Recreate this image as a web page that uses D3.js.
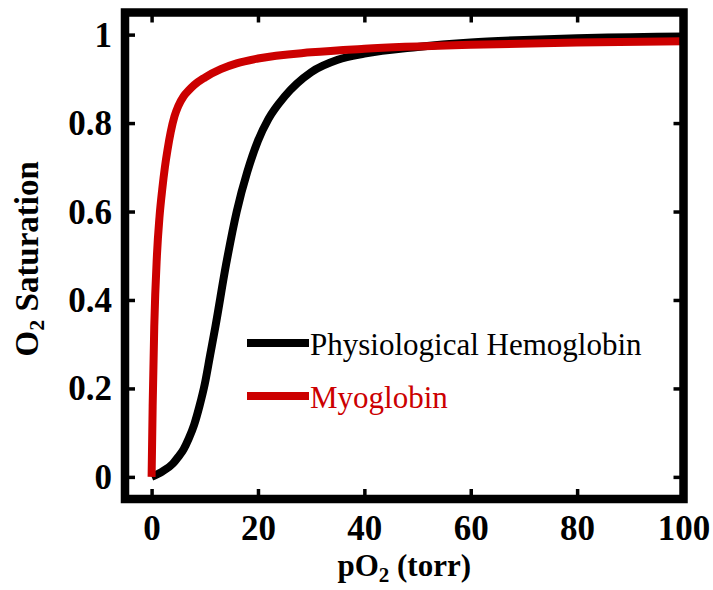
<!DOCTYPE html>
<html>
<head>
<meta charset="utf-8">
<script src="https://cdn.jsdelivr.net/npm/d3@7"></script>
<style>
  html, body { margin: 0; padding: 0; background: #fff; }
  svg { display: block; }
</style>
</head>
<body>
<div id="chart"></div>
<script>
// Oxygen partial pressure (torr) and fractional saturation, read per series
const hbPO2 = [0, 2, 4, 5, 6, 7, 8, 9, 10, 11, 12, 14, 16, 18, 20, 22, 25, 30, 35, 40, 50, 60, 70, 80, 90, 100];
const hbSat = [0, 0.012, 0.03, 0.045, 0.062, 0.087, 0.118, 0.16, 0.21, 0.275, 0.34, 0.48, 0.6, 0.69, 0.76, 0.81, 0.86, 0.915, 0.943, 0.957, 0.972, 0.982, 0.988, 0.992, 0.994, 0.996];

const mbPO2 = [0, 0.2, 0.5, 1, 1.5, 2, 2.5, 3, 3.6, 4.3, 5, 6, 7, 8, 10, 13, 16, 20, 30, 40, 60, 80, 100];
const mbSat = [0, 0.16, 0.34, 0.5, 0.59, 0.65, 0.7, 0.74, 0.78, 0.815, 0.838, 0.86, 0.874, 0.886, 0.903, 0.922, 0.935, 0.946, 0.96, 0.968, 0.977, 0.982, 0.985];

const xTicks = [0, 20, 40, 60, 80, 100];
const yTicks = [0, 0.2, 0.4, 0.6, 0.8, 1];
const yTickLabels = ["0", "0.2", "0.4", "0.6", "0.8", "1"];

const seriesNames = ["Physiological Hemoglobin", "Myoglobin"];
const seriesColors = ["#000000", "#cc0000"];

const W = 713, H = 590;
const plotLeft = 125, plotRight = 683.5, plotTop = 12.5, plotBottom = 499;

const svg = d3.select("#chart").append("svg")
  .attr("width", W).attr("height", H);

const x = d3.scaleLinear().domain([-5, 100]).range([plotLeft, plotRight]);
const y = d3.scaleLinear().domain([-0.05, 1.05]).range([plotBottom, plotTop]);

const serif = "'Liberation Serif', 'Times New Roman', Times, serif";

// curves
const line = d3.line()
  .x(d => x(d[0])).y(d => y(d[1]))
  .curve(d3.curveMonotoneX);

const series = [
  d3.zip(hbPO2, hbSat),
  d3.zip(mbPO2, mbSat)
];

svg.append("g")
  .selectAll("path")
  .data(series)
  .join("path")
  .attr("d", line)
  .attr("fill", "none")
  .attr("stroke", (d, i) => seriesColors[i])
  .attr("stroke-width", 8)
  .attr("stroke-linejoin", "round");

// inward ticks on all four sides
const tickLen = 10;
const axisB = d3.axisBottom(x).tickValues(xTicks).tickSize(-tickLen).tickFormat(d3.format("d"));
const axisT = d3.axisTop(x).tickValues(xTicks).tickSize(-tickLen).tickFormat("");
const axisL = d3.axisLeft(y).tickValues(yTicks).tickSize(-tickLen).tickFormat((d, i) => yTickLabels[i]);
const axisR = d3.axisRight(y).tickValues(yTicks).tickSize(-tickLen).tickFormat("");

function styleAxis(g) {
  g.select(".domain").remove();
  g.selectAll(".tick line").attr("stroke", "#000").attr("stroke-width", 3.5);
  g.selectAll(".tick text")
    .attr("fill", "#000")
    .style("font-family", serif)
    .style("font-weight", "bold")
    .style("font-size", "35px");
}

svg.append("g").attr("transform", `translate(0,${plotBottom})`).call(axisB).call(styleAxis)
  .selectAll(".tick text").attr("y", 41).attr("dy", 0);
svg.append("g").attr("transform", `translate(0,${plotTop})`).call(axisT).call(styleAxis);
svg.append("g").attr("transform", `translate(${plotLeft},0)`).call(axisL).call(styleAxis)
  .selectAll(".tick text").attr("x", -13).attr("dy", "0.33em");
svg.append("g").attr("transform", `translate(${plotRight},0)`).call(axisR).call(styleAxis);

// frame
svg.append("rect")
  .attr("x", plotLeft).attr("y", plotTop)
  .attr("width", plotRight - plotLeft).attr("height", plotBottom - plotTop)
  .attr("fill", "none").attr("stroke", "#000").attr("stroke-width", 8.5);

// axis titles
const xt = svg.append("text")
  .attr("x", (plotLeft + plotRight) / 2).attr("y", 576)
  .attr("text-anchor", "middle")
  .style("font-family", serif).style("font-weight", "bold").style("font-size", "31px");
xt.append("tspan").text("pO");
xt.append("tspan").text("2").attr("font-size", "21px").attr("dy", 6);
xt.append("tspan").text(" (torr)").attr("dy", -6);

const yt = svg.append("text")
  .attr("transform", `translate(38,${(plotTop + plotBottom) / 2 + 3}) rotate(-90)`)
  .attr("text-anchor", "middle")
  .style("font-family", serif).style("font-weight", "bold").style("font-size", "33px");
yt.append("tspan").text("O");
yt.append("tspan").text("2").attr("font-size", "22px").attr("dy", 6);
yt.append("tspan").text(" Saturation").attr("dy", -6);

// legend
const legend = svg.append("g");
const legY = [343, 396];
seriesNames.forEach((name, i) => {
  legend.append("line")
    .attr("x1", 247).attr("x2", 309)
    .attr("y1", legY[i]).attr("y2", legY[i])
    .attr("stroke", seriesColors[i]).attr("stroke-width", 8);
  legend.append("text")
    .attr("x", 310).attr("y", legY[i] + 12)
    .attr("fill", seriesColors[i])
    .style("font-family", serif).style("font-size", "31px")
    .text(name);
});
</script>
</body>
</html>
